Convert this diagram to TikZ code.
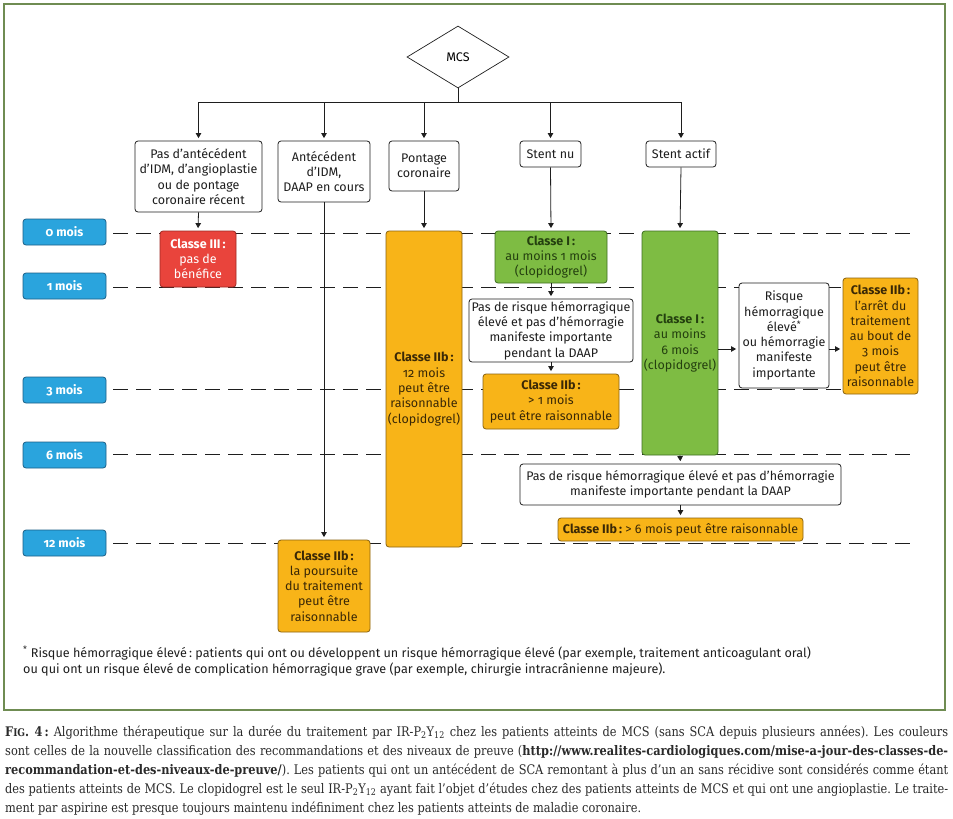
\documentclass[tikz,border=0pt]{standalone}
\usepackage{fontspec}
\setmainfont{Fira Sans}[Numbers=OldStyle]
\newfontfamily\capfont{DejaVu Serif}[FakeStretch=0.86]
\usetikzlibrary{shapes.geometric,arrows.meta}
\definecolor{frameG}{HTML}{6F8C52}
\definecolor{bluF}{HTML}{2AA4DD}
\definecolor{bluD}{HTML}{1B5F86}
\definecolor{redF}{HTML}{E9443C}
\definecolor{redD}{HTML}{9E2A24}
\definecolor{orgF}{HTML}{F8B418}
\definecolor{orgD}{HTML}{8A6310}
\definecolor{grnF}{HTML}{7EBC43}
\definecolor{grnD}{HTML}{3F6E22}
\definecolor{grnT}{HTML}{24400F}
\definecolor{ink}{HTML}{1E1E1E}
\definecolor{orgT}{HTML}{3A2806}
\definecolor{capC}{HTML}{2A2A2A}
\frenchspacing
\begin{document}
\begin{tikzpicture}[x=1pt,y=-1pt,
  font=\fontsize{12.5}{15.3}\selectfont,
  box/.style={draw=ink, line width=0.8pt, rounded corners=3pt, align=center, inner sep=0pt, text=ink},
  wbox/.style={box, fill=white},
  gbox/.style={box, fill=grnF, draw=grnD, text=grnT},
  obox/.style={box, fill=orgF, draw=orgD, text=orgT},
  rbox/.style={box, fill=redF, draw=redD, text=white},
  mbox/.style={box, fill=bluF, draw=bluD, text=white, font=\fontsize{12.3}{14}\selectfont\bfseries, minimum width=83pt, minimum height=26pt},
  dline/.style={draw=ink, line width=0.8pt, dash pattern=on 15pt off 8pt},
  conn/.style={draw=ink, line width=0.8pt},
  arr/.style={conn, -{Triangle[length=5pt,width=5.5pt]}, shorten >=2.5pt},
  sz/.style 2 args={minimum width=#1pt, minimum height=#2pt}
]
\useasboundingbox (0,0) rectangle (953,819);
\fill[white] (0,0) rectangle (953,819);
\draw[frameG, line width=2.6pt] (4,4) rectangle (945,710);

% month labels
\node[mbox] (m0) at (64.5,232) {0 mois};
\node[mbox] (m1) at (64.5,286) {1 mois};
\node[mbox] (m3) at (64.5,390) {3 mois};
\node[mbox] (m6) at (64.5,455) {6 mois};
\node[mbox] (m12) at (64.5,543) {12 mois};
\coordinate (e0) at (918,233);
\coordinate (e1) at (918,287);
\coordinate (e3) at (918,389);
\coordinate (e6) at (918,454);
\coordinate (e12) at (918,543);
\foreach \m in {0,1,3,6,12}{
  \draw[dline] ([xshift=7pt]m\m.east |- e\m) -- (e\m);
}

% top
\node[diamond, draw=ink, line width=0.7pt, minimum width=102pt, minimum height=62pt, inner sep=0pt] (mcs) at (458,57) {MCS};
\node[wbox, sz={127}{71}] (b1) at (198.5,176.5) {Pas d’antécédent\\d’IDM, d’angioplastie\\ou de pontage\\coronaire récent};
\node[wbox, sz={92}{61}] (b2) at (324,171.5) {Antécédent\\d’IDM,\\DAAP en cours};
\node[wbox, sz={70}{50}] (b3) at (424,166) {Pontage\\coronaire};
\node[wbox, sz={61}{26}] (bnu) at (550.5,154) {Stent nu};
\node[wbox, sz={70}{26}] (bact) at (681,154) {Stent actif};

\coordinate (busL) at (198.5,102);
\coordinate (busR) at (681,102);
\draw[conn] (mcs.south) -- (mcs.south |- busL);
\draw[conn] (busL) -- (busR);
\foreach \b in {b1,b2,b3,bnu,bact}{
  \draw[arr] (\b.north |- busL) -- (\b.north);
}

% class boxes
\node[rbox, sz={76}{56}] (c3) at (198,259) {\textbf{Classe III\,:}\\pas de\\bénéfice};
\node[obox, sz={76}{316}] (c12) at (424,389) {\textbf{Classe IIb\,:}\\12 mois\\peut être\\raisonnable\\(clopidogrel)};
\node[obox, sz={92}{92}] (cpo) at (324,586) {\textbf{Classe IIb\,:}\\la poursuite\\du traitement\\peut être\\raisonnable};
\node[gbox, sz={112}{52}] (cI1) at (551,257) {\textbf{Classe I\,:}\\au moins 1 mois\\(clopidogrel)};
\node[wbox, sz={164}{63}] (pdr1) at (551,330.5) {Pas de risque hémorragique\\élevé et pas d’hémorragie\\manifeste importante\\pendant la DAAP};
\node[obox, sz={136}{55}] (c1m) at (551,401.5) {\textbf{Classe IIb\,:}\\> 1 mois\\peut être raisonnable};
\node[gbox, sz={76}{224}] (cI6) at (680,343) {\textbf{Classe I\,:}\\au moins\\6 mois\\(clopidogrel)};
\node[wbox, sz={90}{105}] (risk) at (784,335.5) {Risque\\hémorragique\\élevé\textsuperscript{*}\\ou hémorragie\\manifeste\\importante};
\node[obox, sz={75}{116}] (carr) at (880.5,336) {\textbf{Classe IIb\,:}\\l’arrêt du\\traitement\\au bout de\\3 mois\\peut être\\raisonnable};
\node[wbox, sz={321}{41}] (pdr2) at (680.5,484.5) {Pas de risque hémorragique élevé et pas d’hémorragie\\manifeste importante pendant la DAAP};
\node[obox, sz={245}{23}] (c6m) at (680.5,529.5) {\textbf{Classe IIb\,:} > 6 mois peut être raisonnable};

% connectors
\draw[arr] (b1.south) -- (c3.north);
\draw[arr] (b2.south) -- (cpo.north);
\draw[arr] (b3.south) -- (c12.north);
\draw[arr] (bnu.south) -- (cI1.north);
\draw[arr] (bact.south) -- (cI6.north);
\draw[arr] (cI1.south) -- (pdr1.north);
\draw[arr] (pdr1.south) -- (c1m.north);
\coordinate (ay) at ([yshift=-6pt]cI6.east);
\draw[arr] (ay) -- (ay -| risk.west);
\draw[arr] (ay -| risk.east) -- (ay -| carr.west);
\draw[arr] (cI6.south) -- (pdr2.north);
\draw[arr] (pdr2.south) -- (c6m.north);

% footnote
\node[anchor=base west, inner sep=0pt, align=left, text=ink, font=\fontsize{12.6}{16}\selectfont] (fn) at (23,673)
 {\textsuperscript{*} Risque hémorragique élevé\,: patients qui ont ou développent un risque hémorragique élevé (par exemple, traitement anticoagulant oral)\\ou qui ont un risque élevé de complication hémorragique grave (par exemple, chirurgie intracrânienne majeure).};

% caption
\node[anchor=base west, inner sep=0pt, text=capC, font=\capfont\fontsize{13.2}{19}\selectfont] (cap) at (5,736)
 {\parbox[t]{943pt}{%
 \makebox[943pt][s]{\textbf{F{\fontsize{10.5}{10}\selectfont IG}. 4\,:} Algorithme thérapeutique sur la durée du traitement par IR-P\textsubscript{2}Y\textsubscript{12} chez les patients atteints de MCS (sans SCA depuis plusieurs années). Les couleurs}\\
 \makebox[943pt][s]{sont celles de la nouvelle classification des recommandations et des niveaux de preuve (\textbf{http://www.realites-cardiologiques.com/mise-a-jour-des-classes-de-}}\\
 \makebox[943pt][s]{\textbf{recommandation-et-des-niveaux-de-preuve/}). Les patients qui ont un antécédent de SCA remontant à plus d’un an sans récidive sont considérés comme étant}\\
 \makebox[943pt][s]{des patients atteints de MCS. Le clopidogrel est le seul IR-P\textsubscript{2}Y\textsubscript{12} ayant fait l’objet d’études chez des patients atteints de MCS et qui ont une angioplastie. Le traite-}\\
 ment par aspirine est presque toujours maintenu indéfiniment chez les patients atteints de maladie coronaire.}};
\end{tikzpicture}
\end{document}
